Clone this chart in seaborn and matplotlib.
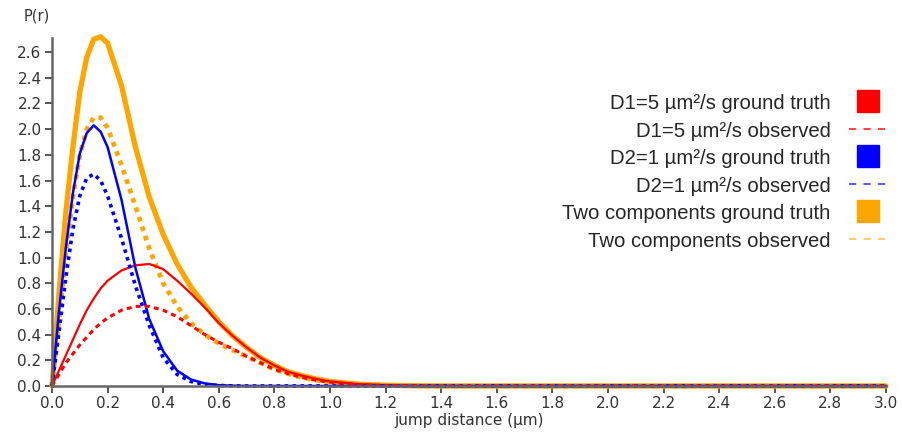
import numpy as np
import pandas as pd
import matplotlib
matplotlib.use('Agg')
import matplotlib.pyplot as plt
import seaborn as sns
from matplotlib.lines import Line2D

# jump distance (um) sample points
r = [0, 0.025, 0.05, 0.075, 0.1, 0.125, 0.15, 0.175, 0.2, 0.25, 0.3, 0.35, 0.4, 0.45,
     0.5, 0.55, 0.6, 0.65, 0.7, 0.75, 0.8, 0.85, 0.9, 0.95, 1.0, 1.1, 1.2, 1.3, 1.4, 2.0, 3.0]

# P(r) for each curve
d1_truth = [0, 0.12, 0.24, 0.36, 0.48, 0.59, 0.68, 0.76, 0.82, 0.90, 0.94, 0.95, 0.91, 0.82,
            0.72, 0.61, 0.49, 0.39, 0.30, 0.22, 0.16, 0.11, 0.08, 0.055, 0.035, 0.015, 0.006, 0.002, 0, 0, 0]
d1_obs = [0, 0.09, 0.18, 0.25, 0.32, 0.38, 0.44, 0.49, 0.53, 0.59, 0.62, 0.62, 0.59, 0.54,
          0.47, 0.40, 0.34, 0.29, 0.23, 0.18, 0.13, 0.095, 0.065, 0.045, 0.03, 0.012, 0.005, 0.002, 0, 0, 0]
d2_truth = [0, 0.58, 1.08, 1.50, 1.81, 1.97, 2.03, 1.98, 1.86, 1.45, 0.92, 0.52, 0.27, 0.12,
            0.05, 0.02, 0.006, 0.002, 0, 0, 0, 0, 0, 0, 0, 0, 0, 0, 0, 0, 0]
d2_obs = [0, 0.42, 0.85, 1.22, 1.48, 1.62, 1.65, 1.60, 1.48, 1.15, 0.78, 0.47, 0.22, 0.09,
          0.035, 0.012, 0.004, 0.001, 0, 0, 0, 0, 0, 0, 0, 0, 0, 0, 0, 0, 0]
two_truth = [0, 0.72, 1.36, 1.86, 2.29, 2.56, 2.70, 2.72, 2.67, 2.34, 1.86, 1.47, 1.18, 0.95,
             0.77, 0.63, 0.50, 0.39, 0.30, 0.22, 0.16, 0.11, 0.08, 0.055, 0.035, 0.015, 0.006, 0.002, 0, 0, 0]
two_obs = [0, 0.51, 1.03, 1.47, 1.80, 2.00, 2.09, 2.09, 2.01, 1.72, 1.40, 1.07, 0.80, 0.62,
           0.49, 0.40, 0.33, 0.28, 0.23, 0.18, 0.13, 0.095, 0.065, 0.045, 0.03, 0.012, 0.005, 0.002, 0, 0, 0]

labels = ['D1=5 µm²/s ground truth', 'D1=5 µm²/s observed',
          'D2=1 µm²/s ground truth', 'D2=1 µm²/s observed',
          'Two components ground truth', 'Two components observed']

RED, BLUE, ORANGE = '#ff0000', '#0000ff', '#ffa500'

sns.set_style('white')
plt.rcParams['font.family'] = ['DejaVu Sans']

fig = plt.figure(figsize=(9.03, 4.45), dpi=100)
ax = fig.add_axes([0.0576, 0.1326, 0.9236, 0.782])

# draw order: orange at the back, then red / blue
curves = [
    (two_truth, ORANGE, 3.8, '-'),
    (two_obs, ORANGE, 3.4, (0, (1.0, 1.1))),
    (d1_truth, RED, 1.6, '-'),
    (d2_truth, BLUE, 1.8, '-'),
    (d2_obs, BLUE, 2.6, (0, (1.0, 1.2))),
    (d1_obs, RED, 2.2, (0, (1.6, 1.4))),
]
for ys, col, lw, ls in curves:
    sns.lineplot(x=r, y=ys, ax=ax, color=col, linewidth=lw, linestyle=ls,
                 clip_on=False, solid_joinstyle='round')

ax.set_xlim(0, 3.0)
ax.set_ylim(0, 2.71)
ax.set_xticks(np.arange(0, 3.01, 0.2))
ax.set_yticks(np.arange(0, 2.61, 0.2))
ax.set_xticklabels([f'{v:.1f}' for v in np.arange(0, 3.01, 0.2)])
ax.set_yticklabels([f'{v:.1f}' for v in np.arange(0, 2.61, 0.2)])
ax.tick_params(axis='both', direction='out', length=5, width=1.4, color='#555555',
               labelsize=11, labelcolor='#333333', pad=2.5)
ax.tick_params(axis='x', bottom=True)
ax.tick_params(axis='y', left=True)
for side in ['top', 'right']:
    ax.spines[side].set_visible(False)
for side in ['left', 'bottom']:
    ax.spines[side].set_color('#666666')
    ax.spines[side].set_linewidth(1.8)

ax.set_xlabel('jump distance (µm)', fontsize=11, color='#333333', labelpad=1)
ax.set_ylabel('')
fig.text(0.0266, 0.963, 'P(r)', fontsize=10.5, color='#333333', ha='left', va='center')

handles = [
    Line2D([], [], linestyle='none', marker='s', markersize=15.5, markerfacecolor=RED, markeredgecolor=RED),
    Line2D([], [], color=RED, linewidth=1.3, linestyle=(0, (4, 4)), alpha=0.8),
    Line2D([], [], linestyle='none', marker='s', markersize=15.5, markerfacecolor=BLUE, markeredgecolor=BLUE),
    Line2D([], [], color=BLUE, linewidth=1.3, linestyle=(0, (4, 4)), alpha=0.7),
    Line2D([], [], linestyle='none', marker='s', markersize=15.5, markerfacecolor=ORANGE, markeredgecolor=ORANGE),
    Line2D([], [], color=ORANGE, linewidth=1.3, linestyle=(0, (4, 4)), alpha=0.6),
]
fig.legend(handles, labels, loc='upper right', bbox_to_anchor=(0.983, 0.791),
           frameon=False, markerfirst=False, borderpad=0, borderaxespad=0,
           handlelength=1.9, handleheight=1.0, handletextpad=0.9, labelspacing=0.37,
           prop={'family': 'Liberation Sans', 'size': 14.6})

fig.savefig('out.png', dpi=100)
